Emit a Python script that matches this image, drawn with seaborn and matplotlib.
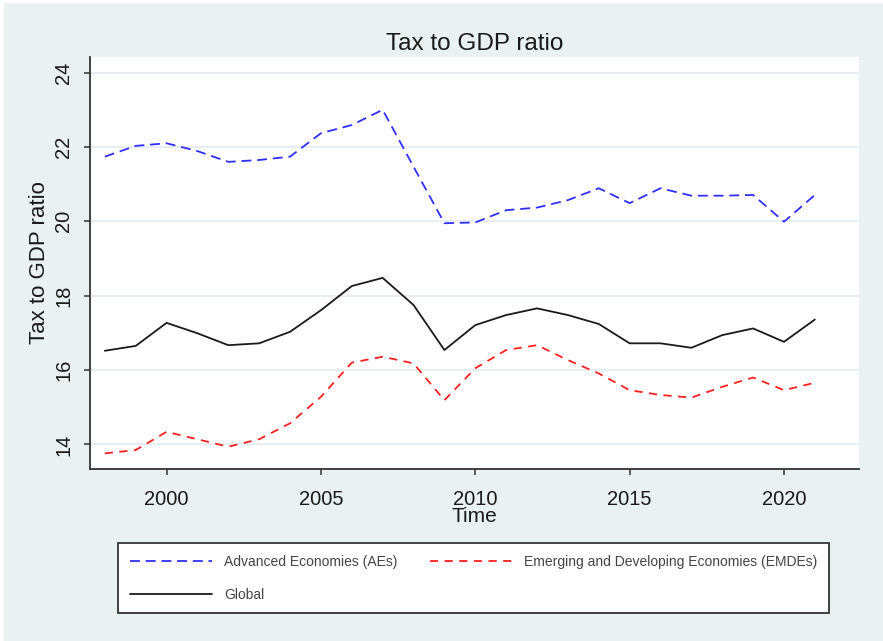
import numpy as np
import pandas as pd
import matplotlib
matplotlib.use("Agg")
import matplotlib.pyplot as plt
from matplotlib.patches import Rectangle
import seaborn as sns

# Tax revenue as a share of GDP, by country group
years = list(range(1998, 2022))
aes = [21.74, 22.03, 22.10, 21.89, 21.60, 21.65, 21.74, 22.37, 22.59, 23.00,
       21.47, 19.95, 19.97, 20.30, 20.37, 20.57, 20.89, 20.49, 20.89, 20.69,
       20.69, 20.71, 19.99, 20.71]
emdes = [13.76, 13.85, 14.34, 14.14, 13.94, 14.14, 14.57, 15.28, 16.20, 16.36,
         16.18, 15.19, 16.05, 16.54, 16.67, 16.27, 15.91, 15.46, 15.33, 15.26,
         15.55, 15.80, 15.46, 15.66]
global_ = [16.52, 16.65, 17.27, 16.99, 16.67, 16.72, 17.03, 17.61, 18.26, 18.48,
           17.75, 16.54, 17.21, 17.48, 17.66, 17.48, 17.24, 16.72, 16.72, 16.60,
           16.94, 17.12, 16.76, 17.36]

label_ae = "Advanced Economies (AEs)"
label_em = "Emerging and Developing Economies (EMDEs)"
label_gl = "Global"

y_ticks = [14, 16, 18, 20, 22, 24]
x_ticks = [2000, 2005, 2010, 2015, 2020]

df = pd.DataFrame({"Time": years, "AE": aes, "EM": emdes, "GL": global_})

sns.set_theme(style="white")
plt.rcParams["font.family"] = ["Liberation Sans", "DejaVu Sans"]

bg = "#e9f1f3"
fig = plt.figure(figsize=(8.83, 6.41), dpi=100, facecolor="white")
fig.patches.append(Rectangle((4 / 883, 0), 1, 1 - 3 / 641, transform=fig.transFigure,
                             facecolor=bg, edgecolor="none", zorder=-10))

ax = fig.add_axes([90 / 883, 1 - 469 / 641, (859 - 90) / 883, (469 - 57) / 641])
ax.set_facecolor("white")

sns.lineplot(data=df, x="Time", y="AE", ax=ax, color="#2f2fff", lw=1.3,
             label=label_ae)
sns.lineplot(data=df, x="Time", y="EM", ax=ax, color="#ff2020", lw=1.3,
             label=label_em)
sns.lineplot(data=df, x="Time", y="GL", ax=ax, color="#1a1a1a", lw=1.3,
             label=label_gl)
lines = ax.get_lines()
lines[0].set_dashes((5.5, 3.2))
lines[1].set_dashes((4.5, 3.6))

ax.set_xlim(1997.52, 2022.43)
ax.set_ylim(13.34, 24.42)
ax.set_xticks(x_ticks)
ax.set_yticks(y_ticks)
ax.yaxis.grid(True, color="#e6eef2", lw=1.4)
ax.xaxis.grid(False)
ax.set_axisbelow(True)

for s in ["top", "right"]:
    ax.spines[s].set_visible(False)
for s in ["left", "bottom"]:
    ax.spines[s].set_color("#333333")
    ax.spines[s].set_linewidth(1.3)

ax.tick_params(axis="both", direction="out", length=4, width=1.1, color="#333333",
               labelsize=14.5, labelcolor="#1a1a1a", left=True, bottom=True)
ax.tick_params(axis="y", pad=8)
ax.tick_params(axis="x", pad=11)
for t in ax.get_yticklabels():
    t.set_rotation(90)
    t.set_va("center")

ax.set_title("Tax to GDP ratio", fontsize=17.5, color="#1a1a1a", pad=5)
ax.set_xlabel("Time", fontsize=15, color="#1a1a1a", labelpad=-1)
ax.set_ylabel("Tax to GDP ratio", fontsize=16, color="#1a1a1a", labelpad=3)

ax.get_legend().remove()
h = {l.get_label(): l for l in ax.get_lines()}
handles = [h[label_ae], h[label_gl], h[label_em]]
labels = [label_ae, label_gl, label_em]
leg = fig.legend(handles, labels, loc="upper left",
                 bbox_to_anchor=(118 / 883, 1 - 543 / 641), borderaxespad=0,
                 ncol=2, fontsize=10, handlelength=5.9, handletextpad=0.9,
                 columnspacing=2.3, labelspacing=1.35, borderpad=0.85,
                 frameon=True, fancybox=False, edgecolor="#333333",
                 facecolor="white", framealpha=1)
leg.get_frame().set_linewidth(1.3)
for t in leg.get_texts():
    t.set_color("#444444")

fig.savefig("out.png", dpi=100, facecolor=fig.get_facecolor())
